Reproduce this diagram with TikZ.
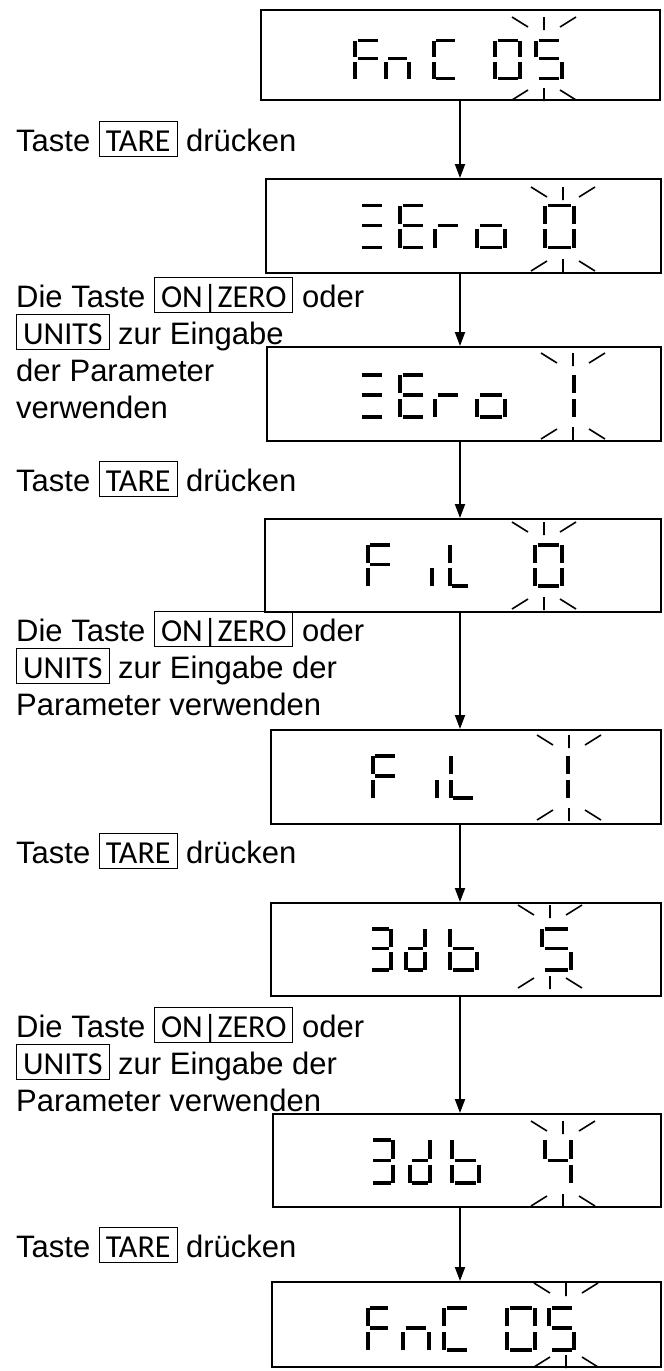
\documentclass[tikz,border=0pt]{standalone}
\usepackage{fontspec}
\setmainfont{Liberation Sans}
\newfontfamily\tastfont{Carlito}
\usetikzlibrary{arrows.meta}

% 按键框
\newcommand{\taste}[1]{\smash{\setlength{\fboxsep}{0pt}\setlength{\fboxrule}{1pt}%
  \fbox{\rule[-5pt]{0pt}{34pt}\hspace{6pt}{\tastfont\fontsize{32}{32}\selectfont #1}\hspace{6pt}}}}

% 数码管的七段 (x: 左列到右列, y: 上横到下横)
\def\sga{(0.1,0) -- (0.9,0)}
\def\sgb{(1,0) -- (1,0.43)}
\def\sgc{(1,0.57) -- (1,1)}
\def\sgd{(0.1,1) -- (0.9,1)}
\def\sge{(0,0.57) -- (0,1)}
\def\sgf{(0,0) -- (0,0.43)}
\def\sgg{(0.1,0.48) -- (0.9,0.48)}

\newcommand{\ziffer}[5]{%
  \begin{scope}[shift={(#1,#2)},x=#3pt,y=-#4pt]
    \foreach \s in {#5} {\edef\segpfad{\csname sg\s\endcsname}\draw[seg] \segpfad;}
  \end{scope}}

% 闪烁的光线
\newcommand{\blinken}[3]{%
  \draw[strahl] (#1,#2) -- ++(0,13) ({#1-32},#2) -- ++(16,10) ({#1+32},#2) -- ++(-16,10)
    (#1,#3) -- ++(0,-13) ({#1-32},{#3-1}) -- ++(16,-10) ({#1+32},{#3-1}) -- ++(-16,-10);}

\tikzset{
  disp/.style={draw, rectangle, line width=2pt, inner sep=0pt},
  seg/.style={line width=3.5pt},
  strahl/.style={line width=1.6pt},
  pfeil/.style={line width=2pt, -{Triangle[length=14pt,width=10pt]}},
  txt/.style={anchor=base west, inner sep=0pt, font=\fontsize{31}{37}\selectfont}
}

\begin{document}
\begin{tikzpicture}[x=1pt,y=-1pt]
    \useasboundingbox (0,0) rectangle (664,1371);

    % 显示框
    \node[disp, minimum width=399pt, minimum height=90pt] (disp1) at (460.5,55) {};
    \node[disp, minimum width=395pt, minimum height=94pt] (disp2) at (463.5,226) {};
    \node[disp, minimum width=394pt, minimum height=94pt] (disp3) at (464,394) {};
    \node[disp, minimum width=396pt, minimum height=93pt] (disp4) at (463,565.5) {};
    \node[disp, minimum width=390pt, minimum height=94pt] (disp5) at (466,777) {};
    \node[disp, minimum width=390pt, minimum height=93pt] (disp6) at (466,949.5) {};
    \node[disp, minimum width=388pt, minimum height=93pt] (disp7) at (467,1160.5) {};
    \node[disp, minimum width=389pt, minimum height=85pt] (disp8) at (466.5,1324.5) {};

    % 箭头
    \coordinate (ax) at (460,0);
    \draw[pfeil] (disp1.south -| ax) -- (disp2.north -| ax);
    \draw[pfeil] (disp2.south -| ax) -- (disp3.north -| ax);
    \draw[pfeil] (disp3.south -| ax) -- (disp4.north -| ax);
    \draw[pfeil] (disp4.south -| ax) -- (disp5.north -| ax);
    \draw[pfeil] (disp5.south -| ax) -- (disp6.north -| ax);
    \draw[pfeil] (disp6.south -| ax) -- (disp7.north -| ax);
    \draw[pfeil] (disp7.south -| ax) -- (disp8.north -| ax);

    % 文字说明
    \node[txt] (tare1) at (16,151) {Taste \taste{TARE} drücken};
    \node[txt] (info1a) at (16,307) {Die Taste \taste{ON|ZERO} oder};
    \node[txt] (info1b) at (16,344) {\taste{UNITS} zur Eingabe};
    \node[txt] (info1c) at (16,381) {der Parameter};
    \node[txt] (info1d) at (16,418) {verwenden};
    \node[txt] (tare2) at (16,491) {Taste \taste{TARE} drücken};
    \node[txt] (info2a) at (16,641) {Die Taste \taste{ON|ZERO} oder};
    \node[txt] (info2b) at (16,678) {\taste{UNITS} zur Eingabe der};
    \node[txt] (info2c) at (16,715) {Parameter verwenden};
    \node[txt] (tare3) at (16,863) {Taste \taste{TARE} drücken};
    \node[txt] (info3a) at (16,1037) {Die Taste \taste{ON|ZERO} oder};
    \node[txt] (info3b) at (16,1074) {\taste{UNITS} zur Eingabe der};
    \node[txt] (info3c) at (16,1111) {Parameter verwenden};
    \node[txt] (tare4) at (16,1257) {Taste \taste{TARE} drücken};

    % FnC 05
    \ziffer{355}{40.5}{25}{38}{a,f,g,e}
    \ziffer{386}{40.5}{23}{38}{e,g,c}
    \ziffer{434}{40.5}{23}{38}{a,f,e,d}
    \ziffer{495}{40.5}{25}{38}{a,b,c,d,e,f}
    \ziffer{536}{40.5}{26}{38}{a,f,g,c,d}
    \blinken{544}{17}{101}

    % ZEro 0
    \ziffer{359.5}{205.5}{25}{42}{a,g,d}
    \ziffer{400}{205.5}{25}{42}{a,f,g,e,d}
    \ziffer{435}{205.5}{25}{42}{e,g}
    \ziffer{477}{205.5}{28}{42}{g,c,d,e}
    \ziffer{545}{205.5}{29}{42}{a,b,c,d,e,f}
    \blinken{563}{187}{272}

    % ZEro 1
    \ziffer{359.5}{375}{25}{42}{a,g,d}
    \ziffer{400}{375}{25}{42}{a,f,g,e,d}
    \ziffer{435}{375}{25}{42}{e,g}
    \ziffer{477}{375}{28}{42}{g,c,d,e}
    \ziffer{545}{375}{29}{42}{b,c}
    \blinken{573}{353}{440}

    % FiL 0
    \ziffer{368}{545}{24}{41}{a,f,g,e}
    \ziffer{432}{545}{20}{41}{e}
    \ziffer{450}{545}{20}{41}{f,e,d}
    \ziffer{535}{545}{27}{41}{a,b,c,d,e,f}
    \blinken{544}{522}{610}

    % FiL 1
    \ziffer{373}{756}{24}{42}{a,f,g,e}
    \ziffer{437}{756}{20}{42}{e}
    \ziffer{451}{756}{24}{42}{f,e,d}
    \ziffer{540}{756}{28}{42}{b,c}
    \blinken{569}{735}{821}

    % 3db 5
    \ziffer{370}{929}{21}{41}{a,b,g,c,d}
    \ziffer{406}{929}{19}{41}{b,c,d,e,g}
    \ziffer{450}{929}{27}{41}{f,e,d,c,g}
    \ziffer{542}{929}{29}{41}{a,f,g,c,d}
    \blinken{550}{905}{989}

    % 3db 4
    \ziffer{371}{1140}{22}{43}{a,b,g,c,d}
    \ziffer{410}{1140}{20}{43}{b,c,d,e,g}
    \ziffer{452}{1140}{27}{43}{f,e,d,c,g}
    \ziffer{545}{1140}{26}{43}{f,g,b,c}
    \blinken{563}{1121}{1207}

    % FnC 05
    \ziffer{368}{1308}{22}{42}{a,f,g,e}
    \ziffer{403}{1308}{26}{42}{e,g,c}
    \ziffer{444}{1308}{26}{42}{a,f,e,d}
    \ziffer{507}{1308}{28}{42}{a,b,c,d,e,f}
    \ziffer{549}{1308}{25}{42}{a,f,g,c,d}
    \blinken{566}{1283}{1368}
\end{tikzpicture}
\end{document}
